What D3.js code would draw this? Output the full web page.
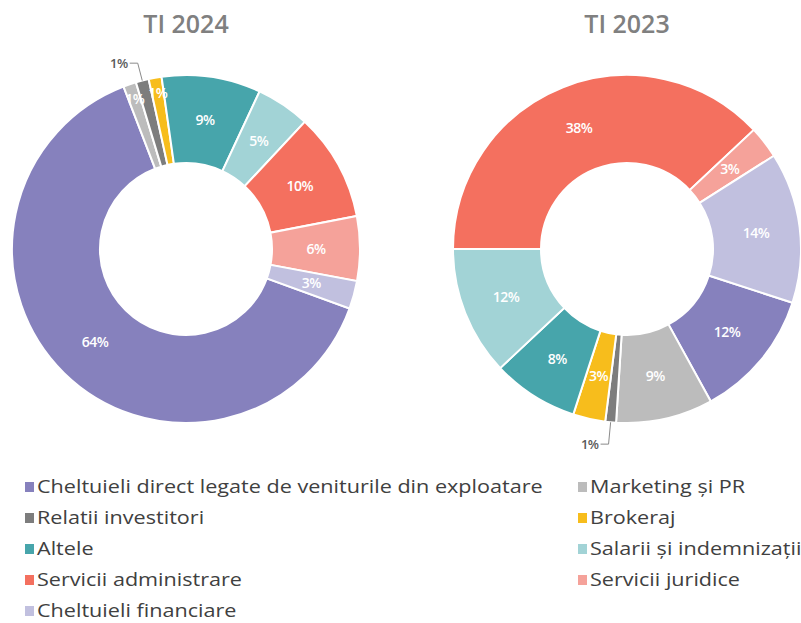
<!DOCTYPE html>
<html>
<head>
<meta charset="utf-8">
<script src="https://cdn.jsdelivr.net/npm/d3@7/dist/d3.min.js"></script>
<style>
  body { margin: 0; background: #fff; }
  text { font-family: "Open Sans", sans-serif; }
</style>
</head>
<body>
<div id="chart-container"></div>
<script>
// categories in slice order (also legend order)
var categories = [
	"Cheltuieli direct legate de veniturile din exploatare",
	"Marketing și PR",
	"Relatii investitori",
	"Brokeraj",
	"Altele",
	"Salarii și indemnizații",
	"Servicii administrare",
	"Servicii juridice",
	"Cheltuieli financiare"
];
// shares in % (labels show rounded values)
var values2024 = [63.6, 1.2, 1.2, 1.2, 9.2, 5.0, 10.0, 6.0, 2.6];
var values2023 = [12, 9, 1, 3, 8, 12, 38, 3, 14];
var titles = ["TI 2024", "TI 2023"];

var palette = ["#8681bd", "#bcbcbc", "#7d7d7d", "#f7bd1c", "#47a5ab",
	"#a2d3d6", "#f4705f", "#f5a29a", "#c1c0df"];

var options = {
	width: 801,
	height: 623,
	outerRadius: 174,
	innerRadius: 86,
	centerY: 249,
	centers: [186, 627],
	startAngles: [110, 108],
	legendX: [25, 578],
	legendY: 487,
	legendRow: 31,
	legendStretch: 1.2
};

var svg = d3.select("#chart-container")
	.append("svg")
	.attr("width", options.width)
	.attr("height", options.height);

var color = d3.scaleOrdinal().domain(categories).range(palette);

function drawDonut(values, idx) {
	var a0 = options.startAngles[idx] * Math.PI / 180;
	var pie = d3.pie().sort(null).value(function(d) { return d; })
		.startAngle(a0).endAngle(a0 + 2 * Math.PI);
	var arcs = pie(values);

	var arc = d3.arc()
		.innerRadius(options.innerRadius)
		.outerRadius(options.outerRadius);

	var g = svg.append("g")
		.attr("transform", "translate(" + options.centers[idx] + "," + options.centerY + ")");

	g.selectAll("path")
		.data(arcs)
		.enter().append("path")
		.attr("d", arc)
		.attr("fill", function(d, i) { return color(categories[i]); })
		.attr("stroke", "#fff")
		.attr("stroke-width", 2);

	// title
	svg.append("text")
		.attr("x", options.centers[idx])
		.attr("y", 33)
		.attr("text-anchor", "middle")
		.attr("font-size", 25)
		.attr("font-weight", 600)
		.attr("fill", "#808080")
		.text(titles[idx]);

	// labels
	arcs.forEach(function(d, i) {
		var mid = (d.startAngle + d.endAngle) / 2;
		var txt = Math.round(d.value) + "%";
		if (i === 2) {
			// thin slice: label outside with leader line
			var p0 = [Math.sin(mid) * options.outerRadius, -Math.cos(mid) * options.outerRadius];
			var r1 = options.outerRadius + (idx === 0 ? 18 : 22);
			var p1 = [Math.sin(mid) * r1, -Math.cos(mid) * r1];
			var p2 = [p1[0] - 8, p1[1]];
			g.append("polyline")
				.attr("points", [p0, p1, p2].map(function(p) { return p.join(","); }).join(" "))
				.attr("fill", "none")
				.attr("stroke", "#8a8a8a")
				.attr("stroke-width", 1);
			g.append("text")
				.attr("x", p2[0] - 2)
				.attr("y", p2[1])
				.attr("dy", "0.35em")
				.attr("text-anchor", "end")
				.attr("font-size", 13)
				.attr("font-weight", 600)
				.attr("fill", "#5a5a5a")
				.attr("letter-spacing", -0.5)
				.text(txt);
			return;
		}
		var r = d.value < 1.5 ? 158 : (options.innerRadius + options.outerRadius) / 2;
		g.append("text")
			.attr("x", Math.sin(mid) * r)
			.attr("y", -Math.cos(mid) * r)
			.attr("dy", "0.35em")
			.attr("text-anchor", "middle")
			.attr("font-size", 14)
			.attr("font-weight", 600)
			.attr("fill", "#fff")
			.attr("letter-spacing", -0.5)
			.text(txt);
	});
}

drawDonut(values2024, 0);
drawDonut(values2023, 1);

// legend, two columns row-major
var legend = svg.selectAll("g.legend-item")
	.data(categories)
	.enter().append("g")
	.attr("class", "legend-item")
	.attr("transform", function(d, i) {
		return "translate(" + options.legendX[i % 2] + "," + (options.legendY + Math.floor(i / 2) * options.legendRow) + ")";
	});

legend.append("rect")
	.attr("x", 0)
	.attr("y", -5)
	.attr("width", 9)
	.attr("height", 10)
	.attr("fill", function(d) { return color(d); });

legend.append("text")
	.attr("transform", "translate(12,0) scale(" + options.legendStretch + ",1)")
	.attr("dy", "0.35em")
	.attr("font-size", 18)
	.attr("fill", "#404040")
	.text(function(d) { return d; });
</script>
</body>
</html>
